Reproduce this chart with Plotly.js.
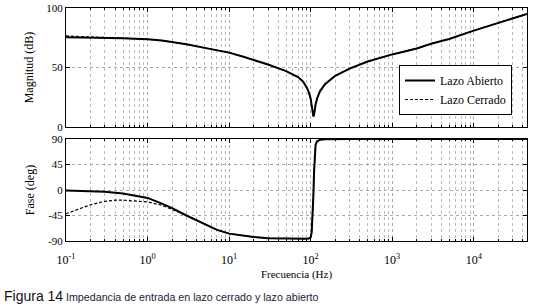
<!DOCTYPE html>
<html><head><meta charset="utf-8">
<script src="https://cdn.plot.ly/plotly-3.0.1.min.js"></script>
<style>html,body{margin:0;padding:0;background:#fff;}#c{width:535px;height:307px;}</style>
</head><body><div id="c"></div>
<script>
// Frequencies (Hz)
const freqOpen = [0.1,0.2,0.3,0.5,0.7,1,1.5,2,3,5,7,10,15,20,30,50,70,80,90,95,100,103,106,108,110,112,115,120,130,150,200,300,500,1000,2000,3000,5000,10000,20000,45000];
// Magnitude (dB) open loop
const magOpen = [75.5,75.3,75,74.6,74.2,73.8,72.6,71.5,69.5,66.5,64.5,62.5,59,56.5,52.5,47,42,38.5,33,29,24,18,12,9,10,14,19,24,30,36,43,49,55,61,66,70,74,81,87.5,95];
// Phase (deg) open loop
const phaseOpen = [-1,-2,-3,-6,-10,-14,-24,-32,-45,-60,-70,-77,-81,-83,-85,-86,-86,-86,-86,-85.5,-84,-75,-45,-10,30,60,80,86,88.5,89.5,90,90,90,90,90,90,90,90,90,90];

const freqClosed = [0.1,0.15,0.2,0.3,0.4,0.5,0.7,1,1.5,2,3,5,7,10,15,20,30,50,70,80,90,95,100,103,106,108,110,112,115,120,130,150,200,300,500,1000,2000,3000,5000,10000,20000,45000];
const magClosed = [76.5,76,75.6,75.1,74.9,74.7,74.3,73.8,72.6,71.5,69.5,66.5,64.5,62.5,59,56.5,52.5,47,42,38.5,33,29,24,18,12,9,10,14,19,24,30,36,43,49,55,61,66,70,74,81,87.5,95];
const phaseClosed = [-42,-33,-26,-20,-18,-18,-19,-21,-27,-34,-45,-60,-70,-77,-81,-83,-85,-86,-86,-86,-86,-85.5,-84,-75,-45,-10,30,60,80,86,88.5,89.5,90,90,90,90,90,90,90,90,90,90];

const xTickVals = [0.1,1,10,100,1000,10000];
const xTickText = ['10<sup>-1</sup>','10<sup>0</sup>','10<sup>1</sup>','10<sup>2</sup>','10<sup>3</sup>','10<sup>4</sup>'];
const magTicks = [0,50,100];
const phaseTicks = [-90,-45,0,45,90];
const phaseTickText = ['-90','-45','0','45','90'];

const serif = 'Liberation Serif';
const W = 535, H = 307;
const px = (x) => x / W, py = (y) => 1 - y / H;

const traces = [
  {x: freqOpen, y: magOpen, name: 'Lazo Abierto', xaxis: 'x', yaxis: 'y', mode: 'lines', line: {color: '#000', width: 2}},
  {x: freqClosed, y: magClosed, name: 'Lazo Cerrado', xaxis: 'x', yaxis: 'y', mode: 'lines', line: {color: '#000', width: 1.2, dash: '3px,2px'}},
  {x: freqOpen, y: phaseOpen, name: 'Lazo Abierto', xaxis: 'x2', yaxis: 'y2', mode: 'lines', line: {color: '#000', width: 2}, showlegend: false},
  {x: freqClosed, y: phaseClosed, name: 'Lazo Cerrado', xaxis: 'x2', yaxis: 'y2', mode: 'lines', line: {color: '#000', width: 1.2, dash: '3px,2px'}, showlegend: false}
];

const xBase = {
  type: 'log', range: [-1, Math.log10(45000)], domain: [px(66), px(527)],
  tickvals: xTickVals, ticktext: xTickText, ticks: 'inside', ticklen: 4, tickcolor: '#000',
  showline: true, linecolor: '#000', linewidth: 1, mirror: 'ticks',
  showgrid: true, gridcolor: '#aaa', griddash: 'dot', gridwidth: 1,
  minor: {dtick: 'D1', ticks: 'inside', ticklen: 2, tickcolor: '#000', showgrid: true, gridcolor: '#bbb', griddash: 'dot', gridwidth: 1},
  zeroline: false, tickfont: {family: serif, size: 12, color: '#000'}
};
const yBase = {
  ticks: 'inside', ticklen: 4, tickcolor: '#000', showline: true, linecolor: '#000', linewidth: 1, mirror: 'ticks',
  showgrid: true, gridcolor: '#aaa', griddash: 'dot', zeroline: false,
  tickfont: {family: serif, size: 11, color: '#000'}
};

const layout = {
  width: W, height: H, margin: {l: 0, r: 0, t: 0, b: 0},
  paper_bgcolor: '#fff', plot_bgcolor: '#fff', showlegend: true,
  xaxis: Object.assign({}, xBase, {anchor: 'y', showticklabels: false}),
  xaxis2: Object.assign({}, xBase, {anchor: 'y2', matches: 'x', ticklabelstandoff: 8,
    title: {text: 'Frecuencia (Hz)', font: {family: serif, size: 11, color: '#000'}, standoff: 3}}),
  yaxis: Object.assign({}, yBase, {domain: [py(127), py(8)], range: [0, 100], tickvals: magTicks,
    title: {text: 'Magnitud (dB)', font: {family: serif, size: 12, color: '#000'}, standoff: 10}}),
  yaxis2: Object.assign({}, yBase, {domain: [py(241), py(139)], range: [-90, 90], tickvals: phaseTicks, ticktext: phaseTickText,
    title: {text: 'Fase (deg)', font: {family: serif, size: 12, color: '#000'}, standoff: 10}}),
  legend: {x: px(512), xanchor: 'right', y: py(65), yanchor: 'top', bgcolor: '#fff', bordercolor: '#000', borderwidth: 1,
    font: {family: serif, size: 12, color: '#000'}, tracegroupgap: 0},
  annotations: [
    {text: 'Figura 14', xref: 'paper', yref: 'paper', x: px(2), y: py(296), xanchor: 'left', yanchor: 'middle', showarrow: false,
     font: {family: 'Liberation Sans', size: 14, color: '#111'}},
    {text: 'Impedancia de entrada en lazo cerrado y lazo abierto', xref: 'paper', yref: 'paper', x: px(64), y: py(296.5), xanchor: 'left', yanchor: 'middle', showarrow: false,
     font: {family: 'Liberation Sans Narrow, Liberation Sans', size: 10.7, color: '#1a1a3a'}}
  ]
};

Plotly.newPlot('c', traces, layout, {staticPlot: true, displayModeBar: false});
</script></body></html>
